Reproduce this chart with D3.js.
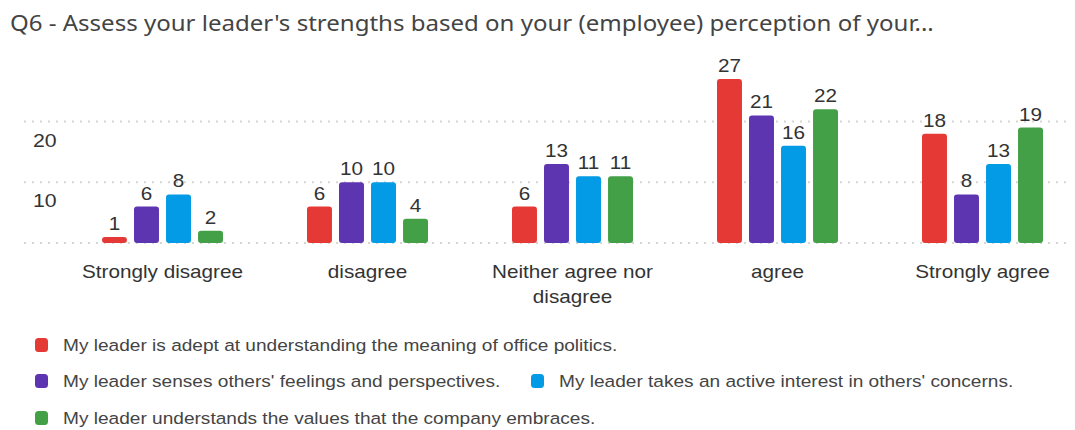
<!DOCTYPE html>
<html>
<head>
<meta charset="utf-8">
<script src="https://cdn.jsdelivr.net/npm/d3@7"></script>
<style>
  html, body { margin: 0; padding: 0; background: #fff; }
  svg { display: block; }
</style>
</head>
<body>
<svg id="chart" width="1075" height="430"></svg>
<script>
const categories = ["Strongly disagree", "disagree", "Neither agree nor disagree", "agree", "Strongly agree"];
const seriesNames = [
  "My leader is adept at understanding the meaning of office politics.",
  "My leader senses others' feelings and perspectives.",
  "My leader takes an active interest in others' concerns.",
  "My leader understands the values that the company embraces."
];
const politics = [1, 6, 6, 27, 18];
const feelings = [6, 10, 13, 21, 8];
const concerns = [8, 10, 11, 16, 13];
const values = [2, 4, 11, 22, 19];
const yTicks = [10, 20];
const colors = ["#e53935", "#5e35b1", "#039be5", "#43a047"];

const seriesValues = [politics, feelings, concerns, values];

const svg = d3.select("#chart");
const textColor = "#333";
const sansFont = "'Liberation Sans', Arial, sans-serif";
const stretch = 1.15; // text is set slightly wide

// places a text element at (x, y) with the horizontal stretch applied
function placeText(sel, x, y) {
  return sel.attr("transform", (d, i) => `translate(${typeof x === "function" ? x(d, i) : x},${typeof y === "function" ? y(d, i) : y}) scale(${stretch},1)`);
}

// title
placeText(svg.append("text"), 10, 31)
  .attr("font-family", "'Noto Sans', sans-serif")
  .attr("font-size", 20.9)
  .attr("fill", "#444")
  .text("Q6 - Assess your leader's strengths based on your (employee) perception of your...");

const baseline = 243;
const y = d3.scaleLinear().domain([0, 20]).range([baseline, 121.5]);
const x0 = d3.scaleBand().domain(categories).range([60, 1085]);
const x1 = d3.scaleBand().domain(d3.range(seriesNames.length)).range([0, 121]).paddingInner(0.22);
const groupOffset = (x0.bandwidth() - 121) / 2;

// dotted gridlines incl. baseline
const gridVals = [0].concat(yTicks);
svg.append("g").selectAll("line").data(gridVals).join("line")
  .attr("x1", 24).attr("x2", 1072)
  .attr("y1", d => y(d)).attr("y2", d => y(d))
  .attr("stroke", "#d6d6d6").attr("stroke-width", 2)
  .attr("stroke-dasharray", "2,6");

// tick labels, sitting below their gridlines
placeText(svg.append("g").selectAll("text").data(yTicks).join("text"), 33, d => y(d) + 25)
  .attr("font-family", sansFont)
  .attr("font-size", 18.5).attr("fill", textColor)
  .text(d => d);

// bars
const groups = svg.append("g").selectAll("g").data(categories).join("g")
  .attr("transform", c => `translate(${x0(c) + groupOffset},0)`);

groups.each(function(c, ci) {
  const g = d3.select(this);
  const data = seriesValues.map((arr, si) => ({ si, v: arr[ci] }));
  g.selectAll("rect").data(data).join("rect")
    .attr("x", d => x1(d.si))
    .attr("width", x1.bandwidth())
    .attr("y", d => y(d.v))
    .attr("height", d => baseline - y(d.v))
    .attr("rx", 3).attr("ry", 3)
    .attr("fill", d => colors[d.si]);
  placeText(g.selectAll("text.val").data(data).join("text").attr("class", "val"),
      d => x1(d.si) + x1.bandwidth() / 2, d => y(d.v) - 7)
    .attr("text-anchor", "middle")
    .attr("font-family", sansFont)
    .attr("font-size", 18).attr("fill", textColor)
    .text(d => d.v);
});

// category labels (wrapped)
const catLines = {
  "Neither agree nor disagree": ["Neither agree nor", "disagree"]
};
const catG = placeText(svg.append("g").selectAll("text").data(categories).join("text"),
    c => x0(c) + x0.bandwidth() / 2, 278)
  .attr("text-anchor", "middle")
  .attr("font-family", sansFont)
  .attr("font-size", 18).attr("fill", textColor);
catG.each(function(c) {
  const lines = catLines[c] || [c];
  d3.select(this).selectAll("tspan").data(lines).join("tspan")
    .attr("x", 0)
    .attr("dy", (d, i) => i === 0 ? 0 : 25)
    .text(d => d);
});

// legend
const legendPos = [
  { x: 35, y: 345 },
  { x: 35, y: 381 },
  { x: 531, y: 381 },
  { x: 35, y: 418 }
];
const leg = svg.append("g").selectAll("g").data(seriesNames).join("g")
  .attr("transform", (d, i) => `translate(${legendPos[i].x},${legendPos[i].y})`);
leg.append("rect")
  .attr("x", 0).attr("y", -7).attr("width", 13).attr("height", 14)
  .attr("rx", 3.5).attr("fill", (d, i) => colors[i]);
placeText(leg.append("text"), 28, 6)
  .attr("font-family", sansFont)
  .attr("font-size", 16.6).attr("fill", "#444")
  .text(d => d);
</script>
</body>
</html>
